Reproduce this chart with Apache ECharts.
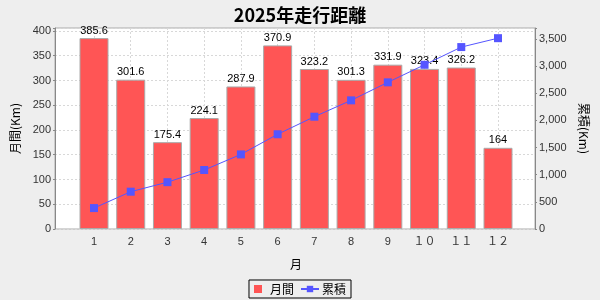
<!DOCTYPE html>
<html>
<head>
<meta charset="utf-8">
<script src="https://cdn.jsdelivr.net/npm/echarts@6/dist/echarts.min.js"></script>
<style>
html,body{margin:0;padding:0;background:#EEEEEE;}
#c{width:600px;height:300px;}
</style>
</head>
<body>
<div id="c"></div>
<script>
const titleText = '2025年走行距離';
const months = ['1','2','3','4','5','6','7','8','9','１０','１１','１２'];
const monthly = [385.6, 301.6, 175.4, 224.1, 287.9, 370.9, 323.2, 301.3, 331.9, 323.4, 326.2, 164];
const cumulative = [385.6, 687.2, 862.6, 1086.7, 1374.6, 1745.5, 2068.7, 2370.0, 2701.9, 3025.3, 3351.5, 3515.5];
const leftMax = 406, rightMax = 3703;
const FONT = '"Liberation Sans", "Noto Sans CJK JP", sans-serif';
const CJK = '"Noto Sans CJK JP", "Liberation Sans", sans-serif';

const chart = echarts.init(document.getElementById('c'));
const gTop = 28, gBottom = 71;
chart.setOption({
  backgroundColor: '#EEEEEE',
  animation: false,
  title: {
    text: titleText, left: 'center', top: 1,
    textStyle: {fontFamily: CJK, fontWeight: 'bold', fontSize: 18, color: '#000'}
  },
  legend: {
    bottom: 2, left: 'center',
    borderColor: '#000', borderWidth: 1, padding: [3, 5], itemGap: 6,
    itemWidth: 18, itemHeight: 8,
    textStyle: {fontFamily: CJK, fontSize: 12, color: '#000', padding: [0,0,0,-2]},
    data: [
      {name: '月間', icon: 'path://M0,0 L10,0 L10,10 L0,10 Z', itemStyle: {borderWidth: 0}},
      {name: '累積'}
    ]
  },
  grid: [
    {left: 55, right: 65, top: gTop, bottom: gBottom, show: true, backgroundColor: '#FFFFFF', borderColor: '#AAAAAA', borderWidth: 1},
    {left: 94, right: 102, top: gTop, bottom: gBottom}
  ],
  xAxis: [
    {gridIndex: 0, type: 'category', data: months, show: false},
    {gridIndex: 1, type: 'category', data: months, boundaryGap: false,
     axisLine: {show: false}, axisTick: {show: false},
     axisLabel: {fontFamily: FONT, fontSize: 11, color: '#333', margin: 7},
     splitLine: {show: true, lineStyle: {type: [2, 2], color: '#D8D8D8'}},
     name: '月', nameLocation: 'middle', nameGap: 29,
     nameTextStyle: {fontFamily: CJK, fontSize: 12, color: '#000'}}
  ],
  yAxis: [
    {gridIndex: 0, type: 'value', min: 0, max: leftMax, interval: 50, position: 'left',
     axisLine: {show: true, lineStyle: {color: '#888'}},
     axisTick: {show: true, length: 2, lineStyle: {color: '#888'}},
     axisLabel: {fontFamily: FONT, fontSize: 11, color: '#333', margin: 4,
       formatter: v => (v % 50 === 0 ? String(v) : '')},
     splitLine: {show: true, lineStyle: {type: [2, 2], color: '#D8D8D8'}},
     name: '月間(Km)', nameLocation: 'middle', nameGap: 28,
     nameTextStyle: {fontFamily: CJK, fontSize: 12, color: '#000'}},
    {gridIndex: 0, type: 'value', min: 0, max: rightMax, interval: 500, position: 'right',
     axisLine: {show: true, lineStyle: {color: '#888'}},
     axisTick: {show: true, length: 2, lineStyle: {color: '#888'}},
     axisLabel: {fontFamily: FONT, fontSize: 11, color: '#333', margin: 4,
       formatter: v => (v % 500 === 0 ? v.toLocaleString('en-US') : '')},
     splitLine: {show: false},
     name: '累積(Km)', nameLocation: 'middle', nameGap: 38, nameRotate: -90,
     nameTextStyle: {fontFamily: CJK, fontSize: 12, color: '#000'}},
    {gridIndex: 1, type: 'value', min: 0, max: leftMax, show: false},
    {gridIndex: 1, type: 'value', min: 0, max: rightMax, show: false}
  ],
  series: [
    {name: '月間', type: 'bar', xAxisIndex: 1, yAxisIndex: 2, data: monthly,
     barWidth: 29, clip: false,
     itemStyle: {color: '#FF5555', borderColor: '#AAAAAA', borderWidth: 1},
     label: {show: true, position: 'top', distance: 2, fontFamily: FONT, fontSize: 11, color: '#000'}},
    {name: '累積', type: 'line', xAxisIndex: 1, yAxisIndex: 3, data: cumulative,
     symbol: 'rect', symbolSize: 8, clip: false,
     lineStyle: {color: '#5555FF', width: 1},
     itemStyle: {color: '#5555FF'}}
  ]
});
</script>
</body>
</html>
